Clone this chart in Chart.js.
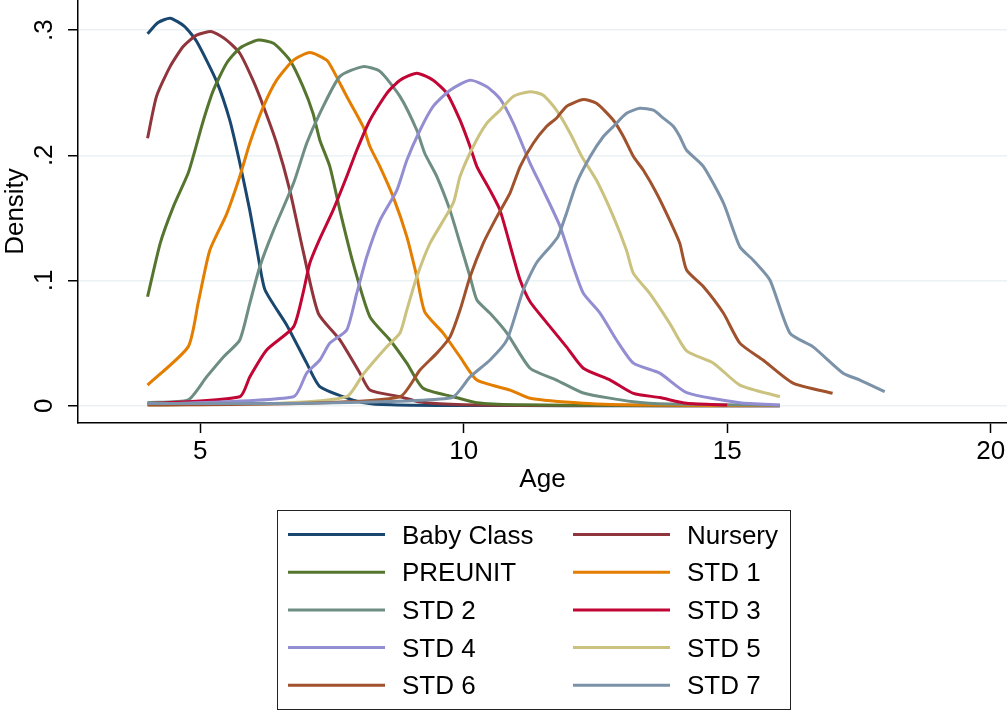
<!DOCTYPE html>
<html>
<head>
<meta charset="utf-8">
<title>Age density by class</title>
<script src="https://cdn.jsdelivr.net/npm/chart.js@4.4.1/dist/chart.umd.min.js"></script>
<style>
  html, body { margin: 0; padding: 0; background: #fff; }
  #wrap { position: relative; width: 1007px; height: 711px; }
</style>
</head>
<body>
<div id="wrap"><canvas id="densityChart"></canvas></div>
<script>
// kernel density of pupil age, one curve per class
var classNames = ['Baby Class', 'Nursery', 'PREUNIT', 'STD 1', 'STD 2', 'STD 3', 'STD 4', 'STD 5', 'STD 6', 'STD 7'];
var classColors = ['#1a476f', '#90353b', '#55752f', '#e37e00', '#6e8e84', '#c10534', '#938dd2', '#cac27e', '#a0522d', '#7b92a8'];

var babyAge = [4.0, 4.2, 4.43, 4.7, 4.93, 5.31, 5.56, 5.75, 5.94, 6.1, 6.23, 6.64, 7.02, 7.27, 7.9, 8.28, 9, 10, 12, 14, 16];
var babyDen = [0.297, 0.306, 0.3094, 0.303, 0.291, 0.259, 0.228, 0.194, 0.156, 0.119, 0.0924, 0.0645, 0.034, 0.0152, 0.0045, 0.0013, 0.0004, 0.0002, 0, 0, 0];

var nurseryAge = [4.0, 4.17, 4.43, 4.68, 4.93, 5.22, 5.5, 5.75, 6.0, 6.2, 6.45, 6.7, 6.95, 7.24, 7.65, 8.03, 8.22, 8.79, 9.17, 10, 12, 14, 16];
var nurseryDen = [0.2136, 0.247, 0.271, 0.287, 0.296, 0.2987, 0.292, 0.2815, 0.26, 0.239, 0.2096, 0.172, 0.124, 0.0738, 0.0525, 0.026, 0.0125, 0.0072, 0.003, 0.0008, 0.0002, 0, 0];

var preunitAge = [4.0, 4.24, 4.49, 4.77, 4.9, 5.06, 5.25, 5.5, 5.75, 6.1, 6.39, 6.7, 6.95, 7.14, 7.27, 7.46, 7.65, 7.9, 8.22, 8.6, 8.92, 9.23, 9.8, 10.25, 11, 13, 16];
var preunitDen = [0.087, 0.1297, 0.159, 0.1856, 0.204, 0.228, 0.252, 0.2735, 0.2855, 0.292, 0.2894, 0.276, 0.2548, 0.2335, 0.212, 0.191, 0.156, 0.114, 0.071, 0.0525, 0.034, 0.0139, 0.0072, 0.0024, 0.0008, 0.0003, 0.0002];

var std1Age = [4.0, 4.77, 4.96, 5.18, 5.5, 5.75, 5.94, 6.2, 6.45, 6.77, 7.08, 7.4, 7.52, 7.78, 8.09, 8.22, 8.41, 8.66, 8.92, 9.11, 9.26, 9.61, 9.93, 10.25, 10.88, 11.26, 12.26, 13.5, 16];
var std1Den = [0.0165, 0.047, 0.082, 0.124, 0.153, 0.183, 0.2096, 0.239, 0.26, 0.276, 0.282, 0.276, 0.268, 0.247, 0.223, 0.207, 0.191, 0.167, 0.135, 0.103, 0.075, 0.058, 0.039, 0.0205, 0.0125, 0.0059, 0.002, 0.0005, 0.0001];

var std2Age = [4.0, 4.77, 5.12, 5.44, 5.75, 5.94, 6.13, 6.39, 6.77, 7.02, 7.27, 7.65, 8.09, 8.41, 8.79, 9.11, 9.26, 9.49, 9.74, 9.93, 10.12, 10.25, 10.5, 10.82, 11.26, 11.76, 12.27, 13.22, 13.9, 16];
var std2Den = [0.0025, 0.0046, 0.023, 0.039, 0.0525, 0.0818, 0.111, 0.14, 0.1776, 0.2096, 0.2335, 0.263, 0.2708, 0.267, 0.247, 0.22, 0.2016, 0.183, 0.156, 0.1297, 0.103, 0.0844, 0.0738, 0.058, 0.0299, 0.0205, 0.0102, 0.0032, 0.0014, 0.0004];

var std3Age = [4.0, 5.75, 5.94, 6.26, 6.77, 6.95, 7.08, 7.27, 7.52, 7.78, 7.97, 8.22, 8.54, 8.79, 9.11, 9.42, 9.68, 9.93, 10.12, 10.25, 10.5, 10.69, 10.94, 11.07, 11.26, 11.64, 11.95, 12.27, 12.78, 13.22, 13.72, 14.23, 15.0];
var std3Den = [0.0015, 0.0072, 0.023, 0.0445, 0.063, 0.0898, 0.114, 0.1335, 0.156, 0.183, 0.204, 0.228, 0.2495, 0.26, 0.2655, 0.26, 0.2495, 0.228, 0.207, 0.191, 0.172, 0.156, 0.119, 0.1004, 0.083, 0.063, 0.047, 0.0299, 0.0205, 0.0099, 0.0065, 0.0019, 0.0006];

var std4Age = [4.0, 6.77, 7.02, 7.27, 7.46, 7.78, 7.97, 8.16, 8.41, 8.73, 8.92, 9.17, 9.42, 9.74, 10.12, 10.44, 10.69, 10.94, 11.26, 11.51, 11.83, 12.08, 12.27, 12.59, 12.9, 13.22, 13.72, 14.23, 15.24, 16.0];
var std4Den = [0.001, 0.0072, 0.026, 0.0365, 0.05, 0.0605, 0.0898, 0.119, 0.148, 0.172, 0.196, 0.22, 0.239, 0.252, 0.26, 0.2548, 0.245, 0.2256, 0.1936, 0.172, 0.143, 0.111, 0.0898, 0.0738, 0.0525, 0.034, 0.026, 0.0105, 0.0024, 0.0006];

var std5Age = [4.0, 6.5, 7.78, 8.09, 8.54, 8.79, 8.92, 9.11, 9.36, 9.8, 9.93, 10.18, 10.44, 10.69, 10.94, 11.26, 11.51, 11.76, 12.02, 12.24, 12.52, 12.84, 13.09, 13.22, 13.53, 13.91, 14.23, 14.74, 15.24, 16.0];
var std5Den = [0.0005, 0.002, 0.0072, 0.025, 0.047, 0.058, 0.0764, 0.103, 0.1297, 0.1617, 0.183, 0.207, 0.2256, 0.236, 0.247, 0.2508, 0.248, 0.236, 0.2176, 0.199, 0.18, 0.151, 0.124, 0.1057, 0.0898, 0.0658, 0.0438, 0.034, 0.0165, 0.0072];

var std6Age = [4.0, 7.0, 8.79, 9.17, 9.49, 9.74, 9.93, 10.12, 10.37, 10.63, 10.88, 11.07, 11.32, 11.57, 11.76, 11.95, 12.27, 12.52, 12.84, 13.03, 13.22, 13.41, 13.66, 13.91, 14.1, 14.23, 14.55, 14.93, 15.24, 15.68, 16.25, 17.0];
var std6Den = [0.0005, 0.002, 0.0072, 0.0285, 0.042, 0.055, 0.0764, 0.103, 0.1297, 0.151, 0.17, 0.191, 0.2096, 0.223, 0.2296, 0.239, 0.2445, 0.2415, 0.228, 0.215, 0.199, 0.188, 0.1697, 0.148, 0.1297, 0.1084, 0.095, 0.0738, 0.05, 0.0365, 0.018, 0.0099];

var std7Age = [4.0, 7.0, 9.77, 10.12, 10.5, 10.82, 11.13, 11.38, 11.64, 11.79, 11.95, 12.14, 12.4, 12.65, 12.84, 13.09, 13.34, 13.6, 13.79, 13.98, 14.1, 14.23, 14.55, 14.93, 15.24, 15.49, 15.81, 16.19, 16.63, 17.2, 17.52, 17.99];
var std7Den = [0.0018, 0.002, 0.0064, 0.023, 0.0365, 0.0525, 0.0924, 0.114, 0.127, 0.135, 0.1537, 0.1776, 0.199, 0.215, 0.223, 0.2335, 0.2375, 0.236, 0.2296, 0.223, 0.215, 0.204, 0.191, 0.1617, 0.127, 0.1164, 0.1004, 0.058, 0.047, 0.026, 0.0205, 0.0112];

var xTicks = [5, 10, 15, 20];
var yTicks = [0, 0.1, 0.2, 0.3];

var ages = [babyAge, nurseryAge, preunitAge, std1Age, std2Age, std3Age, std4Age, std5Age, std6Age, std7Age];
var dens = [babyDen, nurseryDen, preunitDen, std1Den, std2Den, std3Den, std4Den, std5Den, std6Den, std7Den];

var FONT = '"Liberation Sans", Arial, Helvetica, sans-serif';
Chart.defaults.font.family = FONT;
Chart.defaults.color = '#000';

function toPoints(xs, ys) {
  return xs.map(function (x, i) { return { x: x, y: ys[i] }; });
}

var datasets = classNames.map(function (name, i) {
  return {
    label: name,
    data: toPoints(ages[i], dens[i]),
    borderColor: classColors[i],
    backgroundColor: classColors[i],
    borderWidth: 3,
    pointRadius: 0,
    tension: 0.2,
    fill: false,
    // later classes sit on top
    order: classNames.length - i
  };
});

// two-column legend in a box under the plot
var boxLegend = {
  id: 'boxLegend',
  afterDraw: function (chart) {
    var ctx = chart.ctx;
    ctx.save();
    ctx.strokeStyle = '#222';
    ctx.lineWidth = 1;
    ctx.strokeRect(277.5, 510.5, 513, 199);
    ctx.font = '26px ' + FONT;
    ctx.textBaseline = 'middle';
    ctx.fillStyle = '#000';
    chart.data.datasets.forEach(function (ds, i) {
      var col = i % 2, row = Math.floor(i / 2);
      var x0 = col === 0 ? 288 : 573;
      var y = 534.5 + row * 37.7;
      ctx.strokeStyle = ds.borderColor;
      ctx.lineWidth = 3;
      ctx.beginPath();
      ctx.moveTo(x0, y);
      ctx.lineTo(x0 + 97, y);
      ctx.stroke();
      ctx.fillText(ds.label, x0 + 114, y + 2);
    });
    ctx.restore();
  }
};

var ctx = document.getElementById('densityChart').getContext('2d');
var chart = new Chart(ctx, {
  type: 'line',
  data: { datasets: datasets },
  plugins: [boxLegend],
  options: {
    responsive: true,
    maintainAspectRatio: false,
    animation: false,
    devicePixelRatio: 1,
    layout: { padding: { left: 0, top: 0, right: 0, bottom: 213 } },
    plugins: {
      legend: { display: false },
      tooltip: { enabled: false }
    },
    scales: {
      x: {
        type: 'linear',
        min: 2.68,
        max: 20.31,
        afterBuildTicks: function (s) {
          s.ticks = xTicks.map(function (v) { return { value: v }; });
        },
        afterFit: function (s) {
          s.height = 75;
          s.paddingLeft = 0;
          s.paddingRight = 0;
        },
        grid: { drawOnChartArea: false, tickLength: 10, tickColor: '#000', tickWidth: 1.5 },
        border: { color: '#000', width: 1.5 },
        ticks: {
          color: '#000',
          font: { size: 26 },
          padding: 3,
          minRotation: 0,
          maxRotation: 0,
          autoSkip: false,
          callback: function (v) { return String(v); }
        },
        title: {
          display: true,
          text: 'Age',
          color: '#000',
          font: { size: 26 },
          padding: { top: 0, bottom: 3 }
        }
      },
      y: {
        type: 'linear',
        min: -0.0138,
        max: 0.324,
        afterBuildTicks: function (s) {
          s.ticks = yTicks.map(function (v) { return { value: v }; });
        },
        afterFit: function (s) {
          s.width = 78;
          s.paddingTop = 0;
          s.paddingBottom = 0;
        },
        grid: { color: '#eaf2f3', lineWidth: 1.5, tickLength: 10, tickColor: '#000', tickWidth: 1.5 },
        border: { color: '#000', width: 1.5 },
        ticks: {
          color: '#000',
          font: { size: 26 },
          padding: 12,
          minRotation: 90,
          maxRotation: 90,
          crossAlign: 'center',
          callback: function (v) { return v === 0 ? '0' : String(v).replace(/^0/, ''); }
        },
        title: {
          display: true,
          text: 'Density',
          color: '#000',
          font: { size: 26 },
          padding: { top: 0, bottom: 0 }
        }
      }
    }
  }
});
</script>
</body>
</html>
